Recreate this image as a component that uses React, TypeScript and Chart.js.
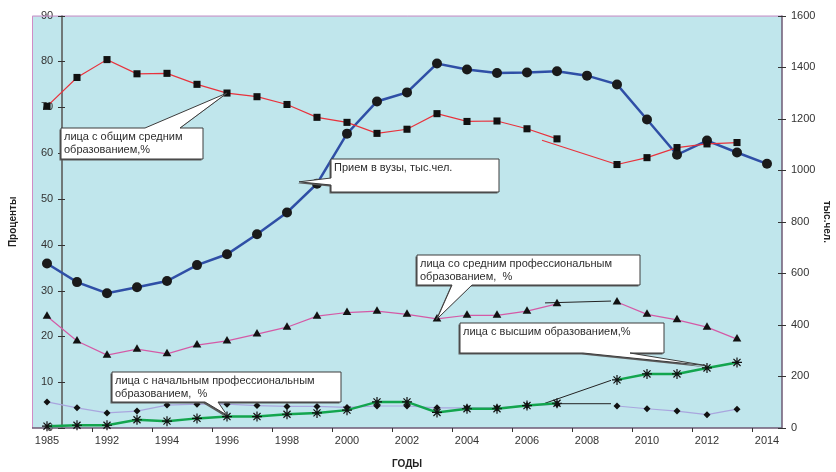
import React, { useEffect, useRef } from "react";
import { Chart, registerables } from "chart.js";

Chart.register(...registerables);

// ---- data ----
const years = [
  1985, 1991, 1992, 1993, 1994, 1995, 1996, 1997, 1998, 1999, 2000, 2001, 2002,
  2003, 2004, 2005, 2006, 2007, 2008, 2009, 2010, 2011, 2012, 2013, 2014,
];

// лица с общим средним образованием, %
const generalSecondary = [
  70.2, 76.5, 80.4, 77.3, 77.4, 75.0, 73.1, 72.3, 70.6, 67.8, 66.7, 64.3, 65.2,
  68.6, 66.9, 67.0, 65.3, 63.1, null, 57.5, 59.0, 61.2, 62.0, 62.3, null,
];

// Прием в вузы, тыс.чел. (right axis)
const admissions = [
  638, 566, 523, 546, 570, 632, 674, 752, 836, 948, 1142, 1267, 1302,
  1414, 1391, 1377, 1379, 1384, 1367, 1333, 1197, 1060, 1115, 1069, 1025,
];

// лица со средним профессиональным образованием, %
const vocationalSecondary = [
  24.4, 19.0, 15.9, 17.2, 16.2, 18.1, 19.0, 20.5, 22.0, 24.4, 25.2, 25.5, 24.8,
  23.8, 24.6, 24.6, 25.5, 27.1, null, 27.5, 24.8, 23.6, 22.0, 19.4, null,
];

// лица с начальным профессиональным образованием, %
const vocationalPrimary = [
  5.7, 4.4, 3.3, 3.7, 5.0, 5.2, 5.2, 4.9, 4.7, 4.7, 4.5, 4.8, 4.8,
  4.4, 4.4, 4.4, 4.9, 5.2, null, 4.8, 4.2, 3.7, 2.9, 4.1, null,
];

// лица с высшим образованием, %
const higher = [
  0.4, 0.6, 0.6, 1.8, 1.5, 2.1, 2.5, 2.5, 3.0, 3.3, 3.9, 5.7, 5.7,
  3.4, 4.2, 4.2, 4.9, 5.4, null, 10.5, 11.8, 11.8, 13.1, 14.3, null,
];

// hand-drawn connector strokes across the missing 2008 value (x = position in years list, y = value)
const generalLinkX = [16.5, 19];
const generalLinkY = [62.8, 57.5];
const vocSecLinkX = [16.6, 18.8];
const vocSecLinkY = [27.3, 27.7];
const vocPrimLinkX = [16.6, 18.8];
const vocPrimLinkY = [5.3, 5.3];
const higherLinkX = [16.6, 18.8];
const higherLinkY = [5.4, 10.4];

const leftTicksMax = 90;
const rightTicksMax = 1600;

const toXY = (arr: (number | null)[]) => arr.map((v, i) => ({ x: i, y: v }));
const pairXY = (xs: number[], ys: number[]) => xs.map((x, i) => ({ x, y: ys[i] }));

const FONT = '"Liberation Sans", Arial, sans-serif';

type Callout = {
  lines: string[];
  box: [number, number, number, number];
  side: "top" | "bottom" | "left";
  base: [number, number];
  tip: { x: number; y: number; axis: "y" | "y1" };
};

const callouts: Callout[] = [
  {
    lines: ["лица с общим средним", "образованием,%"],
    box: [61, 128, 142, 31],
    side: "top",
    base: [145, 180],
    tip: { x: 6, y: generalSecondary[6] as number, axis: "y" },
  },
  {
    lines: ["Прием в вузы, тыс.чел."],
    box: [331, 159, 168, 33],
    side: "left",
    base: [178, 185],
    tip: { x: 8.4, y: 955, axis: "y1" },
  },
  {
    lines: ["лица со средним профессиональным", "образованием,  %"],
    box: [417, 255, 223, 30],
    side: "bottom",
    base: [452, 472],
    tip: { x: 13, y: vocationalSecondary[13] as number, axis: "y" },
  },
  {
    lines: ["лица с высшим образованием,%"],
    box: [460, 323, 204, 30],
    side: "bottom",
    base: [583, 630],
    tip: { x: 22, y: (higher[22] as number) + 0.5, axis: "y" },
  },
  {
    lines: ["лица с начальным профессиональным", "образованием,  %"],
    box: [112, 372, 229, 30],
    side: "bottom",
    base: [205, 218],
    tip: { x: 6, y: (higher[6] as number) + 0.3, axis: "y" },
  },
];

const decorPlugin = {
  id: "decor",
  beforeDraw(chart: any) {
    const { ctx, chartArea: a } = chart;
    ctx.save();
    ctx.fillStyle = "#C0E6EC";
    ctx.fillRect(a.left, a.top, a.right - a.left, a.bottom - a.top);
    ctx.restore();
  },
  beforeDatasetsDraw(chart: any) {
    const { ctx, chartArea: a, scales } = chart;
    const xs = scales.x;
    const ys = scales.y;
    const y1 = scales.y1;
    ctx.save();
    // pink frame: top and left
    ctx.strokeStyle = "#D08CC6";
    ctx.lineWidth = 1;
    ctx.beginPath();
    ctx.moveTo(a.left + 0.5, a.bottom);
    ctx.lineTo(a.left + 0.5, a.top + 0.5);
    ctx.lineTo(a.right, a.top + 0.5);
    ctx.stroke();
    // x axis line
    ctx.strokeStyle = "#6E5A74";
    ctx.lineWidth = 1.5;
    ctx.beginPath();
    ctx.moveTo(a.left, a.bottom);
    ctx.lineTo(a.right, a.bottom);
    ctx.stroke();
    // x tick marks between label pairs
    ctx.lineWidth = 1;
    ctx.strokeStyle = "#333";
    for (let i = 1; i < years.length - 1; i += 2) {
      const px = Math.round(xs.getPixelForValue(i + 0.5)) + 0.5;
      ctx.beginPath();
      ctx.moveTo(px, a.bottom);
      ctx.lineTo(px, a.bottom + 4);
      ctx.stroke();
    }
    // right axis line
    ctx.strokeStyle = "#6E5A74";
    ctx.lineWidth = 1.5;
    ctx.beginPath();
    ctx.moveTo(a.right, a.top);
    ctx.lineTo(a.right, a.bottom);
    ctx.stroke();
    ctx.lineWidth = 1;
    ctx.strokeStyle = "#333";
    for (let v = 0; v <= rightTicksMax; v += 200) {
      const py = Math.round(y1.getPixelForValue(v)) + 0.5;
      ctx.beginPath();
      ctx.moveTo(a.right - 4, py);
      ctx.lineTo(a.right + 4, py);
      ctx.stroke();
    }
    // left value axis crossing between first two categories
    const ax = xs.getPixelForValue(0.5);
    ctx.strokeStyle = "#707878";
    ctx.lineWidth = 2;
    ctx.beginPath();
    ctx.moveTo(ax, a.top);
    ctx.lineTo(ax, a.bottom);
    ctx.stroke();
    ctx.lineWidth = 1;
    ctx.strokeStyle = "#333";
    for (let v = 0; v <= leftTicksMax; v += 10) {
      const py = Math.round(ys.getPixelForValue(v)) + 0.5;
      ctx.beginPath();
      ctx.moveTo(ax - 4, py);
      ctx.lineTo(ax + 3, py);
      ctx.stroke();
    }
    ctx.restore();
  },
  afterDatasetsDraw(chart: any) {
    const { ctx, scales } = chart;
    ctx.save();
    for (const c of callouts) {
      const [bx, by, bw, bh] = c.box;
      const tx = scales.x.getPixelForValue(c.tip.x);
      const ty = scales[c.tip.axis].getPixelForValue(c.tip.y);
      const path = (dx: number, dy: number) => {
        ctx.beginPath();
        const L = bx + dx, T = by + dy, R = bx + bw + dx, B = by + bh + dy;
        if (c.side === "top") {
          ctx.moveTo(L, T);
          ctx.lineTo(c.base[0] + dx, T);
          ctx.lineTo(tx + dx, ty + dy);
          ctx.lineTo(c.base[1] + dx, T);
          ctx.lineTo(R, T);
          ctx.lineTo(R, B);
          ctx.lineTo(L, B);
        } else if (c.side === "bottom") {
          ctx.moveTo(L, T);
          ctx.lineTo(R, T);
          ctx.lineTo(R, B);
          ctx.lineTo(c.base[1] + dx, B);
          ctx.lineTo(tx + dx, ty + dy);
          ctx.lineTo(c.base[0] + dx, B);
          ctx.lineTo(L, B);
        } else {
          ctx.moveTo(L, T);
          ctx.lineTo(R, T);
          ctx.lineTo(R, B);
          ctx.lineTo(L, B);
          ctx.lineTo(L, c.base[1] + dy);
          ctx.lineTo(tx + dx, ty + dy);
          ctx.lineTo(L, c.base[0] + dy);
        }
        ctx.closePath();
      };
      // shadow
      path(-1.5, 1.5);
      ctx.fillStyle = "#5A5A5A";
      ctx.fill();
      path(0, 0);
      ctx.fillStyle = "#FFFFFF";
      ctx.fill();
      ctx.strokeStyle = "#3C3C3C";
      ctx.lineWidth = 1;
      ctx.stroke();
      ctx.fillStyle = "#2E2E2E";
      ctx.font = `11px ${FONT}`;
      ctx.textAlign = "left";
      ctx.textBaseline = "middle";
      c.lines.forEach((line, i) => {
        ctx.fillText(line, bx + 3, by + 9 + i * 13);
      });
    }
    ctx.restore();
  },
};

export default function App() {
  const ref = useRef<HTMLCanvasElement | null>(null);

  useEffect(() => {
    if (!ref.current) return;
    Chart.defaults.font.family = FONT;
    Chart.defaults.font.size = 11;
    Chart.defaults.color = "#333333";

    const chart = new Chart(ref.current, {
      type: "line",
      data: {
        datasets: [
          {
            label: "лица с высшим образованием,%",
            data: toXY(higher),
            borderColor: "#13A54E",
            borderWidth: 2.5,
            pointStyle: "star",
            pointRadius: 5,
            pointBorderColor: "#111",
            pointBackgroundColor: "#111",
            pointBorderWidth: 1.2,
            yAxisID: "y",
            order: 1,
            clip: false,
          },
          {
            label: "лица с начальным профессиональным образованием, %",
            data: toXY(vocationalPrimary),
            borderColor: "#A9A6DE",
            borderWidth: 1.2,
            pointStyle: "rectRot",
            pointRadius: 3.5,
            pointBorderColor: "#111",
            pointBackgroundColor: "#111",
            pointBorderWidth: 0,
            yAxisID: "y",
            order: 2,
            clip: false,
          },
          {
            label: "лица со средним профессиональным образованием, %",
            data: toXY(vocationalSecondary),
            borderColor: "#D45AA6",
            borderWidth: 1.2,
            pointStyle: "triangle",
            pointRadius: 5,
            pointBorderColor: "#111",
            pointBackgroundColor: "#111",
            pointBorderWidth: 0,
            yAxisID: "y",
            order: 3,
            clip: false,
          },
          {
            label: "лица с общим средним образованием,%",
            data: toXY(generalSecondary),
            borderColor: "#E8323C",
            borderWidth: 1.2,
            pointStyle: "rect",
            pointRadius: 5,
            pointBorderColor: "#111",
            pointBackgroundColor: "#111",
            pointBorderWidth: 0,
            yAxisID: "y",
            order: 4,
            clip: false,
          },
          {
            label: "Прием в вузы, тыс.чел.",
            data: toXY(admissions),
            borderColor: "#2F4FA6",
            borderWidth: 2.5,
            pointStyle: "circle",
            pointRadius: 5,
            pointBorderColor: "#1A1A1A",
            pointBackgroundColor: "#1A1A1A",
            pointBorderWidth: 0,
            yAxisID: "y1",
            order: 5,
            clip: false,
          },
          {
            label: "link-general",
            data: pairXY(generalLinkX, generalLinkY),
            borderColor: "#E8323C",
            borderWidth: 1.2,
            pointRadius: 0,
            yAxisID: "y",
            order: 6,
          },
          {
            label: "link-vocsec",
            data: pairXY(vocSecLinkX, vocSecLinkY),
            borderColor: "#222",
            borderWidth: 1,
            pointRadius: 0,
            yAxisID: "y",
            order: 6,
          },
          {
            label: "link-vocprim",
            data: pairXY(vocPrimLinkX, vocPrimLinkY),
            borderColor: "#222",
            borderWidth: 1,
            pointRadius: 0,
            yAxisID: "y",
            order: 6,
          },
          {
            label: "link-higher",
            data: pairXY(higherLinkX, higherLinkY),
            borderColor: "#222",
            borderWidth: 1,
            pointRadius: 0,
            yAxisID: "y",
            order: 6,
          },
        ],
      },
      options: {
        responsive: true,
        maintainAspectRatio: false,
        animation: false,
        events: [],
        layout: { padding: { top: 15, left: 0, right: 0, bottom: 0 } },
        plugins: {
          legend: { display: false },
          tooltip: { enabled: false },
        },
        scales: {
          x: {
            type: "linear",
            min: -0.5,
            max: years.length - 0.5,
            grid: { display: false, drawTicks: false },
            border: { display: false },
            afterBuildTicks: (scale: any) => {
              scale.ticks = years
                .map((_, i) => i)
                .filter((i) => i % 2 === 0)
                .map((i) => ({ value: i }));
            },
            afterFit: (scale: any) => {
              scale.height = 44;
            },
            ticks: {
              autoSkip: false,
              maxRotation: 0,
              padding: 6,
              color: "#333",
              font: { size: 11 },
              callback: (v: any) => String(years[Math.round(Number(v))] ?? ""),
            },
            title: {
              display: true,
              text: "ГОДЫ",
              color: "#222",
              font: { size: 10, weight: "bold" },
              padding: { top: 0, bottom: 2 },
            },
          },
          y: {
            position: "left",
            min: 0,
            max: leftTicksMax,
            grid: { display: false, drawTicks: false },
            border: { display: false },
            afterFit: (scale: any) => {
              scale.width = 32;
            },
            ticks: {
              stepSize: 10,
              mirror: true,
              crossAlign: "far",
              padding: 9,
              color: "#333",
              font: { size: 11 },
              callback: (v: any) => String(v),
            },
            title: {
              display: true,
              text: "Проценты",
              color: "#222",
              font: { size: 10, weight: "bold" },
              padding: { top: 7, bottom: 0 },
            },
          },
          y1: {
            position: "right",
            min: 0,
            max: rightTicksMax,
            grid: { display: false, drawTicks: false },
            border: { display: false },
            afterFit: (scale: any) => {
              scale.width = 54;
            },
            ticks: {
              stepSize: 200,
              padding: 9,
              color: "#333",
              font: { size: 11 },
              callback: (v: any) => String(v),
            },
            title: {
              display: true,
              text: "тыс.чел.",
              color: "#222",
              font: { size: 10, weight: "bold" },
              padding: { top: 3, bottom: 0 },
            },
          },
        },
      },
      plugins: [decorPlugin],
    } as any);

    return () => chart.destroy();
  }, []);

  return (
    <div
      style={{
        position: "fixed",
        left: 0,
        top: 0,
        width: 836,
        height: 472,
        background: "#fff",
      }}
    >
      <canvas ref={ref} />
    </div>
  );
}
